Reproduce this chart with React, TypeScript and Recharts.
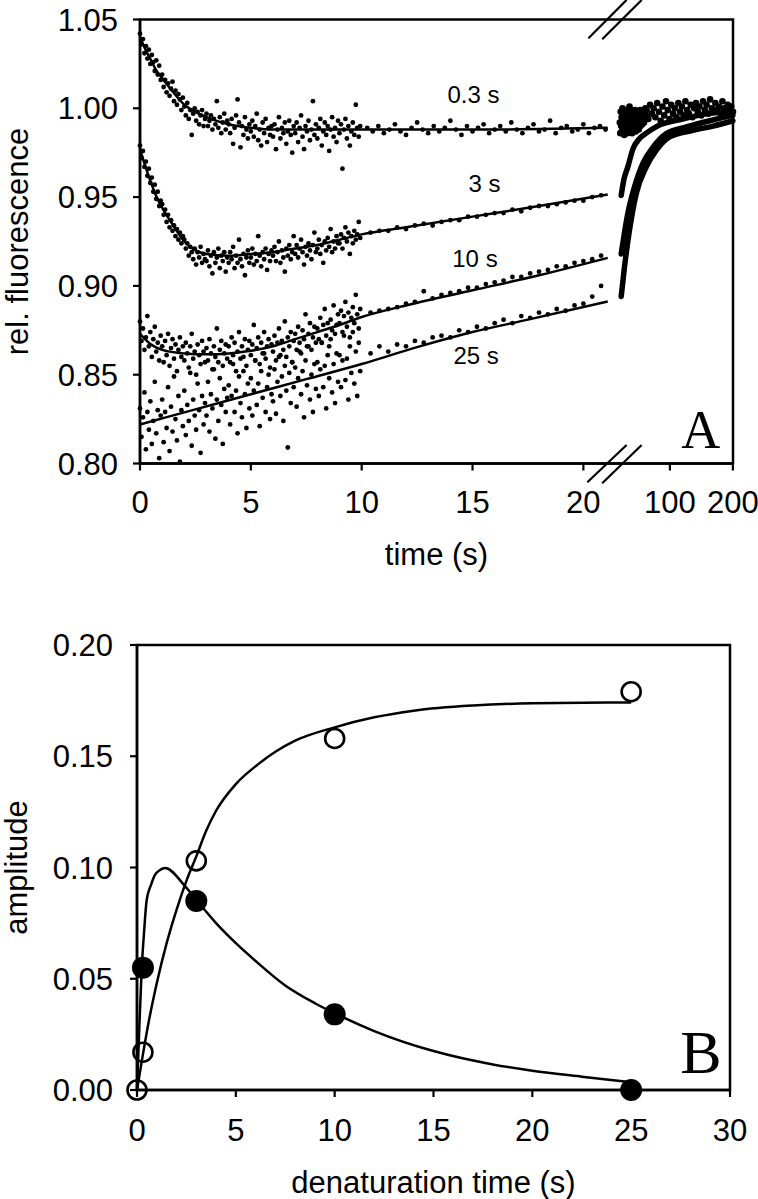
import {
  ComposedChart,
  Line,
  ReferenceArea,
  ReferenceDot,
  ReferenceLine,
  Scatter,
  XAxis,
  YAxis,
} from "recharts";

// ---------- Panel A: relative fluorescence traces ----------
// dense part, 0-10 s, one value every 1/15 s
const trace03Dense = [
  1.042, 1.036, 1.039, 1.031, 1.035, 1.028, 1.033, 1.025, 1.03, 1.026, 1.021, 1.027, 1.019, 1.024, 1.016,
  1.019, 1.012, 1.016, 1.009, 1.014, 1.007, 1.011, 1.015, 1.004, 1.01, 1.002, 1.008, 1.005, 0.999, 1.006,
  1.001, 0.996, 1.003, 0.994, 0.999, 0.985, 0.997, 1.0, 0.993, 0.998, 0.991, 0.996, 0.999, 0.99, 0.994,
  0.997, 0.99, 0.993, 0.996, 0.988, 0.994, 0.991, 1.004, 0.989, 0.995, 0.986, 0.992, 0.997, 0.988, 0.993,
  0.991, 0.986, 0.994, 0.98, 0.989, 0.996, 1.005, 0.992, 0.978, 0.99, 0.985, 0.995, 0.988, 0.983, 0.991,
  0.987, 0.993, 0.984, 0.99, 0.997, 0.982, 0.988, 0.979, 0.992, 0.986, 0.994, 0.981, 0.989, 0.985, 0.99,
  0.984, 0.991, 0.977, 0.988, 0.995, 0.983, 0.989, 0.986, 0.992, 0.98, 0.987, 0.993, 0.985, 0.975, 0.99,
  0.986, 0.992, 0.981, 0.989, 0.996, 0.984, 0.977, 0.99, 0.987, 0.993, 0.982, 0.988, 1.004, 0.985, 0.991,
  0.983, 0.989, 0.994, 0.979, 0.987, 0.992, 0.985, 0.99, 0.976, 0.988, 0.995, 0.984, 0.989, 0.981, 0.993,
  0.986, 0.991, 0.966, 0.988, 0.994, 0.983, 0.99, 0.979, 0.987, 0.992, 0.985, 1.002, 0.989, 0.984, 0.99,
];
const trace3Dense = [
  0.979, 0.972, 0.976, 0.967, 0.97, 0.962, 0.966, 0.958, 0.961, 0.953, 0.957, 0.949, 0.953, 0.945, 0.948,
  0.946, 0.94, 0.943, 0.936, 0.94, 0.933, 0.937, 0.931, 0.934, 0.928, 0.932, 0.926, 0.93, 0.924, 0.928,
  0.926, 0.921, 0.924, 0.917, 0.922, 0.919, 0.915, 0.921, 0.912, 0.919, 0.916, 0.922, 0.913, 0.918, 0.915,
  0.914, 0.92, 0.911, 0.917, 0.907, 0.919, 0.913, 0.916, 0.921, 0.91, 0.917, 0.914, 0.919, 0.908, 0.916,
  0.913, 0.919, 0.915, 0.922, 0.91, 0.917, 0.913, 0.926, 0.915, 0.911, 0.918, 0.906, 0.916, 0.92, 0.913,
  0.916, 0.921, 0.912, 0.918, 0.914, 0.928, 0.917, 0.911, 0.919, 0.915, 0.921, 0.909, 0.918, 0.914, 0.92,
  0.917, 0.922, 0.914, 0.919, 0.925, 0.913, 0.92, 0.916, 0.908, 0.921, 0.917, 0.923, 0.915, 0.919, 0.928,
  0.918, 0.923, 0.916, 0.921, 0.926, 0.919, 0.912, 0.922, 0.917, 0.924, 0.92, 0.915, 0.923, 0.93, 0.919,
  0.921, 0.926, 0.918, 0.923, 0.913, 0.925, 0.92, 0.927, 0.922, 0.932, 0.919, 0.925, 0.921, 0.928, 0.924,
  0.924, 0.929, 0.921, 0.927, 0.933, 0.925, 0.93, 0.918, 0.928, 0.924, 0.931, 0.926, 0.929, 0.936, 0.927,
];
const trace10Dense = [
  0.88, 0.869, 0.876, 0.864, 0.871, 0.883, 0.866, 0.874, 0.86, 0.87, 0.877, 0.863, 0.868, 0.858, 0.872,
  0.866, 0.857, 0.869, 0.861, 0.873, 0.855, 0.865, 0.87, 0.859, 0.867, 0.852, 0.864, 0.871, 0.86, 0.866,
  0.858, 0.868, 0.862, 0.854, 0.866, 0.873, 0.859, 0.863, 0.85, 0.867, 0.861, 0.856, 0.869, 0.863, 0.857,
  0.865, 0.858, 0.87, 0.862, 0.853, 0.866, 0.86, 0.876, 0.857, 0.864, 0.869, 0.855, 0.862, 0.867, 0.859,
  0.866, 0.857, 0.871, 0.861, 0.868, 0.852, 0.863, 0.874, 0.859, 0.866, 0.86, 0.87, 0.855, 0.864, 0.869,
  0.861, 0.867, 0.878, 0.858, 0.865, 0.871, 0.856, 0.868, 0.862, 0.874, 0.859, 0.866, 0.87, 0.854, 0.867,
  0.863, 0.872, 0.858, 0.868, 0.876, 0.861, 0.869, 0.864, 0.88, 0.86, 0.871, 0.866, 0.874, 0.857, 0.869,
  0.873, 0.864, 0.877, 0.868, 0.862, 0.875, 0.87, 0.884, 0.866, 0.873, 0.879, 0.864, 0.871, 0.877, 0.868,
  0.876, 0.87, 0.882, 0.868, 0.878, 0.887, 0.872, 0.879, 0.866, 0.881, 0.875, 0.889, 0.873, 0.878, 0.884,
  0.879, 0.886, 0.874, 0.883, 0.891, 0.877, 0.885, 0.871, 0.882, 0.888, 0.879, 0.895, 0.884, 0.876, 0.887,
];
const trace25Dense = [
  0.831, 0.815, 0.826, 0.84, 0.808, 0.829, 0.819, 0.835, 0.811, 0.824, 0.846, 0.817, 0.83, 0.803, 0.827,
  0.836, 0.812, 0.829, 0.82, 0.843, 0.807, 0.832, 0.818, 0.849, 0.825, 0.813, 0.838, 0.801, 0.83, 0.821,
  0.841, 0.816, 0.833, 0.824, 0.851, 0.81, 0.836, 0.827, 0.819, 0.845, 0.83, 0.806, 0.838, 0.822, 0.834,
  0.827, 0.846, 0.818, 0.839, 0.831, 0.853, 0.814, 0.836, 0.824, 0.848, 0.833, 0.811, 0.842, 0.829, 0.837,
  0.844, 0.822, 0.838, 0.856, 0.829, 0.841, 0.817, 0.849, 0.834, 0.826, 0.852, 0.839, 0.82, 0.845, 0.831,
  0.848, 0.827, 0.841, 0.858, 0.833, 0.845, 0.821, 0.852, 0.837, 0.862, 0.829, 0.843, 0.85, 0.825, 0.839,
  0.835, 0.853, 0.828, 0.846, 0.86, 0.838, 0.849, 0.824, 0.855, 0.841, 0.809, 0.851, 0.834, 0.857, 0.843,
  0.854, 0.832, 0.848, 0.863, 0.839, 0.852, 0.826, 0.858, 0.844, 0.866, 0.836, 0.85, 0.829, 0.856, 0.842,
  0.857, 0.838, 0.853, 0.868, 0.843, 0.855, 0.831, 0.861, 0.848, 0.87, 0.84, 0.856, 0.834, 0.862, 0.846,
  0.861, 0.843, 0.858, 0.872, 0.847, 0.859, 0.836, 0.866, 0.851, 0.874, 0.845, 0.863, 0.838, 0.868, 0.852,
];

// sparse part, 10-21 s
const trace03Sparse = [
  0.989, 0.987, 0.99, 0.986, 0.988, 0.991, 0.987, 0.985, 0.989, 0.992, 0.988, 0.986, 0.99, 0.987, 0.989,
  0.993, 0.988, 0.985, 0.99, 0.987, 0.989, 0.991, 0.986, 0.988, 0.99, 0.987, 0.992, 0.988, 0.986, 0.989,
  0.991, 0.987, 0.988, 0.993, 0.986, 0.989, 0.99, 0.987, 0.988, 0.991, 0.986, 0.989, 0.99, 0.988,
];
const trace3Sparse = [
  0.93, 0.931, 0.931, 0.933, 0.932, 0.934, 0.935, 0.934, 0.936, 0.937, 0.937, 0.939, 0.939, 0.94, 0.941,
  0.941, 0.943, 0.942, 0.944, 0.945, 0.945, 0.946, 0.947, 0.948, 0.948, 0.95, 0.951,
];
const trace10Sparse = [
  0.885, 0.886, 0.887, 0.888, 0.89, 0.891, 0.897, 0.893, 0.895, 0.896, 0.897, 0.899, 0.899, 0.901, 0.902,
  0.903, 0.905, 0.905, 0.907, 0.908, 0.909, 0.911, 0.911, 0.913, 0.914, 0.915, 0.917,
];
const trace25Sparse = [
  0.862, 0.866, 0.863, 0.867, 0.866, 0.869, 0.868, 0.871, 0.872, 0.871, 0.875, 0.874, 0.877, 0.876, 0.879,
  0.881, 0.879, 0.883, 0.882, 0.885, 0.884, 0.887, 0.886, 0.889, 0.89, 0.894, 0.9,
];

// fitted curves, 0-21 s
const fit03Times = [0, 0.25, 0.5, 0.75, 1, 1.5, 2, 2.5, 3, 4, 5, 6, 8, 10, 15, 21.1];
const fit03Values = [1.04, 1.033, 1.027, 1.021, 1.017, 1.009, 1.002, 0.998, 0.995, 0.991, 0.989, 0.988, 0.988, 0.988, 0.988, 0.989];
const fit3Times = [0, 0.25, 0.5, 0.75, 1, 1.5, 2, 2.5, 3, 4, 5, 6, 7, 8, 9, 10, 12, 15, 18, 21.1];
const fit3Values = [0.977, 0.967, 0.958, 0.95, 0.944, 0.934, 0.925, 0.92, 0.918, 0.917, 0.918, 0.919, 0.921, 0.923, 0.926, 0.929, 0.933, 0.939, 0.945, 0.9515];
const fit10Times = [0, 0.5, 1, 2, 3, 4, 5, 6, 7, 8, 9, 10, 12, 15, 18, 21.1];
const fit10Values = [0.873, 0.867, 0.864, 0.862, 0.8615, 0.862, 0.8635, 0.866, 0.87, 0.874, 0.878, 0.8825, 0.889, 0.8975, 0.906, 0.9158];
const fit25Times = [0, 2.5, 5, 7.5, 10, 12.5, 15, 17.5, 21.1];
const fit25Values = [0.822, 0.8305, 0.839, 0.8475, 0.856, 0.8655, 0.874, 0.881, 0.8912];

// after the break, 20-200 s
const trace03Blob = [
  0.992, 0.986, 0.998, 0.99, 0.995, 0.987, 1.0, 0.993, 0.989, 0.997, 0.985, 0.994, 0.991, 0.999, 0.988,
  0.996, 0.992, 0.986, 0.998, 0.99, 0.995, 0.988, 1.001, 0.993, 0.987, 0.997, 0.991, 0.999, 0.986, 0.994,
  0.99, 0.997, 0.988, 0.995, 0.992, 0.999, 0.987, 0.993, 0.996, 0.989, 0.998, 0.991, 0.994, 0.988, 0.997,
  0.992, 0.999, 0.99, 0.995, 0.993, 0.998, 0.991, 0.996, 0.994, 0.999, 0.992, 0.997, 0.995, 1.0, 0.996,
];
const trace03Tail = [
  0.999, 0.994, 1.002, 0.997, 1.0, 0.995, 1.003, 0.998, 0.993, 1.001, 0.996, 1.004, 0.999, 0.994, 1.002,
  0.997, 1.0, 0.995, 1.003, 0.998, 1.001, 0.996, 1.004, 0.999, 0.997, 1.002, 0.995, 1.0, 1.003, 0.998,
  1.001, 0.996, 1.004, 0.999, 1.002, 0.997, 1.005, 1.0, 0.998, 1.003, 0.999, 1.001, 0.997, 1.004, 1.0,
  0.998, 1.002, 0.999, 1.001, 0.998,
];
const rec3Times = [22.7, 27, 33.2, 41.2, 51.9, 62.5, 80, 120, 160, 200];
const rec3Values = [0.951, 0.96, 0.967, 0.977, 0.983, 0.986, 0.99, 0.994, 0.997, 0.998];
const rec10Times = [22.7, 33.2, 43.9, 57.1, 73, 94.3, 126.2, 163.4, 200];
const rec10Values = [0.918, 0.9408, 0.9558, 0.969, 0.978, 0.9858, 0.9895, 0.993, 0.996];
const rec25Times = [22.7, 28, 35.9, 46.6, 62.5, 78.5, 99.6, 136.7, 168.5, 200];
const rec25Values = [0.894, 0.9109, 0.9315, 0.952, 0.967, 0.9764, 0.9839, 0.9876, 0.99, 0.993];

const earlyTicks = [0, 5, 10, 15, 20];
const lateTicks = [100, 200];
const fluorTicks = [0.8, 0.85, 0.9, 0.95, 1.0, 1.05];

const traceLabels = [
  { text: "0.3 s", t: 15.04, v: 1.0077 },
  { text: "3 s", t: 15.54, v: 0.9575 },
  { text: "10 s", t: 15.11, v: 0.9152 },
  { text: "25 s", t: 15.16, v: 0.8607 },
];

// axis break marks "//" (time in s on the 0-20 s scale, fluorescence)
const breakMarks = [
  [{ t: 20.23, v: 1.0394 }, { t: 21.95, v: 1.061 }],
  [{ t: 20.85, v: 1.0389 }, { t: 22.63, v: 1.061 }],
  [{ t: 20.18, v: 0.7894 }, { t: 21.95, v: 0.8104 }],
  [{ t: 20.85, v: 0.7889 }, { t: 22.63, v: 0.8104 }],
];

// ---------- Panel B: amplitudes vs denaturation time ----------
const openTimes = [0, 0.3, 3, 10, 25];
const openAmps = [0.0, 0.017, 0.103, 0.158, 0.179];
const filledTimes = [0.3, 3, 10, 25];
const filledAmps = [0.055, 0.085, 0.034, 0.0];

const openFitTimes = [0, 0.3, 0.6, 1, 1.5, 2, 2.5, 3, 3.5, 4, 5, 6, 7, 8, 10, 12, 14, 17, 20, 25];
const openFitValues = [0, 0.016, 0.031, 0.048, 0.066, 0.081, 0.094, 0.105, 0.1165, 0.1255, 0.1375, 0.1455, 0.152, 0.157, 0.163, 0.1675, 0.1705, 0.1728, 0.1738, 0.1742];
const filledFitTimes = [0, 0.1, 0.24, 0.35, 0.49, 0.7, 0.91, 1.1, 1.42, 2.45, 3, 4, 5, 6, 7.5, 9, 10, 12, 15, 18, 20, 22.5, 25];
const filledFitValues = [0, 0.024, 0.055, 0.07, 0.0854, 0.092, 0.0967, 0.0985, 0.0998, 0.0914, 0.0855, 0.075, 0.066, 0.058, 0.047, 0.039, 0.0345, 0.0265, 0.0175, 0.0115, 0.0087, 0.006, 0.0035];

const amplitudeTicks = [0, 0.05, 0.1, 0.15, 0.2];
const denatTicks = [0, 5, 10, 15, 20, 25, 30];

const grid = (start: number, step: number, n: number) =>
  Array.from({ length: n }, (_, i) => start + i * step);

const pts = (ts: number[], vs: number[]) => vs.map((v, i) => ({ t: ts[i], v }));

const denseTimes = grid(0, 1 / 15, 150);
const sparse03Times = grid(10.25, 0.25, trace03Sparse.length);
const sparseTimes = grid(10.4, 0.4, 27);
const blobTimes = grid(20.5, 0.7, trace03Blob.length);
const tailTimes = grid(63, 2.8, trace03Tail.length);

const FONT = "'Liberation Sans', Arial, Helvetica, sans-serif";
const SERIF = "'Liberation Serif', 'Times New Roman', serif";
const INK = "#000";
const FS = 31;

const smallDot = (p: any) => <circle cx={p.cx} cy={p.cy} r={2.4} fill={INK} />;
const blobDot = (p: any) => <circle cx={p.cx} cy={p.cy} r={3.3} fill={INK} />;
const openCircle = (p: any) => (
  <circle cx={p.cx} cy={p.cy} r={9.5} fill="none" stroke={INK} strokeWidth={2.6} />
);
const filledCircle = (p: any) => <circle cx={p.cx} cy={p.cy} r={11} fill={INK} />;

const tickStyle = { fill: INK, fontSize: FS, fontFamily: FONT };
const axisLineStyle = { stroke: INK, strokeWidth: 2.5 };
const tickLineStyle = { stroke: INK, strokeWidth: 2.2 };

function PanelA() {
  const fitLine = (times: number[], values: number[], key: string) => (
    <Line
      key={key}
      xAxisId="early"
      data={pts(times, values)}
      dataKey="v"
      type="monotone"
      stroke={INK}
      strokeWidth={2.5}
      dot={false}
      isAnimationActive={false}
    />
  );
  const recLine = (times: number[], values: number[], key: string) => (
    <Line
      key={key}
      xAxisId="late"
      data={pts(times, values)}
      dataKey="v"
      type="monotone"
      stroke={INK}
      strokeWidth={5.5}
      strokeLinecap="round"
      dot={false}
      isAnimationActive={false}
    />
  );
  const dots = (times: number[], values: number[], axis: string, key: string, shape = smallDot) => (
    <Scatter
      key={key}
      xAxisId={axis}
      data={pts(times, values)}
      shape={shape}
      isAnimationActive={false}
    />
  );

  return (
    <ComposedChart width={758} height={600} margin={{ top: 19.5, right: 25, bottom: 35, left: 0 }}>
      <XAxis
        xAxisId="early"
        type="number"
        dataKey="t"
        domain={[0, 26.75]}
        ticks={earlyTicks}
        interval={0}
        height={1}
        axisLine={axisLineStyle}
        tickLine={tickLineStyle}
        tickSize={7}
        tickMargin={20}
        tick={tickStyle}
      />
      <XAxis
        xAxisId="late"
        type="number"
        dataKey="t"
        domain={[-741.3, 200]}
        ticks={lateTicks}
        interval={0}
        height={100.5}
        axisLine={false}
        tickLine={tickLineStyle}
        tickSize={6}
        tickMargin={20}
        tick={tickStyle}
        label={{ value: "time (s)", position: "insideBottom", offset: 0, fontSize: FS, fill: INK, fontFamily: FONT }}
      />
      <YAxis
        type="number"
        dataKey="v"
        domain={[0.8, 1.05]}
        ticks={fluorTicks}
        interval={0}
        width={140}
        axisLine={axisLineStyle}
        tickLine={tickLineStyle}
        tickSize={7}
        tickMargin={15}
        tick={tickStyle}
        tickFormatter={(v: number) => v.toFixed(2)}
        label={{
          value: "rel. fluorescence",
          angle: -90,
          position: "insideLeft",
          offset: 17,
          fontSize: FS,
          fill: INK,
          fontFamily: FONT,
          style: { textAnchor: "middle" },
        }}
      />
      <ReferenceArea xAxisId="early" x1={0} x2={26.75} y1={0.8} y2={1.05} fill="none" stroke={INK} strokeWidth={2.5} />

      {dots(denseTimes, trace03Dense, "early", "d03")}
      {dots(denseTimes, trace3Dense, "early", "d3")}
      {dots(denseTimes, trace10Dense, "early", "d10")}
      {dots(denseTimes, trace25Dense, "early", "d25")}
      {dots(sparse03Times, trace03Sparse, "early", "s03")}
      {dots(sparseTimes, trace3Sparse, "early", "s3")}
      {dots(sparseTimes, trace10Sparse, "early", "s10")}
      {dots(sparseTimes, trace25Sparse, "early", "s25")}

      {fitLine(fit03Times, fit03Values, "f03")}
      {fitLine(fit3Times, fit3Values, "f3")}
      {fitLine(fit10Times, fit10Values, "f10")}
      {fitLine(fit25Times, fit25Values, "f25")}

      {dots(blobTimes, trace03Blob, "late", "b03", blobDot)}
      {dots(tailTimes, trace03Tail, "late", "t03", blobDot)}
      {recLine(rec3Times, rec3Values, "r3")}
      {recLine(rec10Times, rec10Values, "r10")}
      {recLine(rec25Times, rec25Values, "r25")}

      {breakMarks.map((seg, i) => (
        <ReferenceLine
          key={`br${i}`}
          xAxisId="early"
          segment={[{ x: seg[0].t, y: seg[0].v }, { x: seg[1].t, y: seg[1].v }]}
          stroke={INK}
          strokeWidth={2.2}
          ifOverflow="visible"
        />
      ))}

      {traceLabels.map((l) => (
        <ReferenceDot
          key={l.text}
          xAxisId="early"
          x={l.t}
          y={l.v}
          r={0}
          fill="none"
          stroke="none"
          label={{ value: l.text, position: "center", fontSize: 24, fill: INK, fontFamily: FONT }}
        />
      ))}
      <ReferenceDot
        xAxisId="early"
        x={25.3}
        y={0.8194}
        r={0}
        fill="none"
        stroke="none"
        label={{ value: "A", position: "center", fontSize: 54, fill: INK, fontFamily: SERIF }}
      />
    </ComposedChart>
  );
}

function PanelB() {
  return (
    <ComposedChart width={758} height={599} margin={{ top: 45, right: 28, bottom: 6, left: 0 }}>
      <XAxis
        type="number"
        dataKey="t"
        domain={[0, 30]}
        ticks={denatTicks}
        interval={0}
        height={103}
        axisLine={axisLineStyle}
        tickLine={tickLineStyle}
        tickSize={7}
        tickMargin={22}
        tick={tickStyle}
        label={{ value: "denaturation time (s)", position: "insideBottom", offset: 0, fontSize: FS, fill: INK, fontFamily: FONT }}
      />
      <YAxis
        type="number"
        dataKey="v"
        domain={[0, 0.2]}
        ticks={amplitudeTicks}
        interval={0}
        width={137}
        axisLine={axisLineStyle}
        tickLine={tickLineStyle}
        tickSize={7}
        tickMargin={17}
        tick={tickStyle}
        tickFormatter={(v: number) => v.toFixed(2)}
        label={{
          value: "amplitude",
          angle: -90,
          position: "insideLeft",
          offset: 16,
          fontSize: FS,
          fill: INK,
          fontFamily: FONT,
          style: { textAnchor: "middle" },
        }}
      />
      <ReferenceArea x1={0} x2={30} y1={0} y2={0.2} fill="none" stroke={INK} strokeWidth={2.5} />
      <Line
        data={pts(openFitTimes, openFitValues)}
        dataKey="v"
        type="monotone"
        stroke={INK}
        strokeWidth={2.5}
        dot={false}
        isAnimationActive={false}
      />
      <Line
        data={pts(filledFitTimes, filledFitValues)}
        dataKey="v"
        type="monotone"
        stroke={INK}
        strokeWidth={2.5}
        dot={false}
        isAnimationActive={false}
      />
      <Scatter data={pts(openTimes, openAmps)} shape={openCircle} isAnimationActive={false} />
      <Scatter data={pts(filledTimes, filledAmps)} shape={filledCircle} isAnimationActive={false} />
      <ReferenceDot
        x={28.53}
        y={0.0175}
        r={0}
        fill="none"
        stroke="none"
        label={{ value: "B", position: "center", fontSize: 62, fill: INK, fontFamily: SERIF }}
      />
    </ComposedChart>
  );
}

export default function App() {
  return (
    <div
      style={{
        position: "absolute",
        left: 0,
        top: 0,
        width: 758,
        height: 1199,
        background: "#fff",
        fontFamily: FONT,
      }}
    >
      <PanelA />
      <PanelB />
    </div>
  );
}
